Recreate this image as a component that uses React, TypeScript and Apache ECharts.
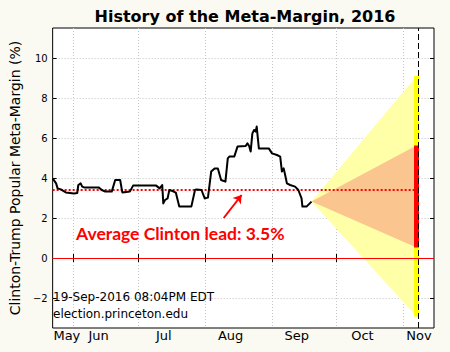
import React, { useEffect, useRef } from "react";
import * as echarts from "echarts";

// x values are day-of-year 2016
const monthLabels = ["May", "Jun", "Jul", "Aug", "Sep", "Oct", "Nov"];
const monthLabelDays = [150.0, 164.7, 194.9, 225.9, 256.6, 287.0, 313.2];
const monthStartDays = [153, 183, 214, 245, 275, 306];
const yTicks = [-2, 0, 2, 4, 6, 8, 10];

// Meta-Margin history [day, %]
const metaMargin: number[][] = [
  [143.4, 3.98], [145.0, 3.73], [145.7, 3.48], [147.2, 3.43], [149.5, 3.28],
  [153.3, 3.23], [154.8, 3.25], [155.3, 3.65], [156.4, 3.73], [157.1, 3.57],
  [158.0, 3.53], [164.7, 3.53], [166.2, 3.4], [167.8, 3.32], [170.8, 3.32],
  [172.4, 3.9], [174.7, 3.9], [175.7, 3.28], [179.2, 3.32], [180.7, 3.62],
  [191.4, 3.62], [193.0, 3.48], [194.2, 3.65], [194.7, 2.73], [195.5, 2.9],
  [196.7, 2.98], [197.5, 3.4], [199.0, 3.35], [200.5, 3.27], [202.1, 2.57],
  [207.7, 2.57], [209.4, 3.4], [210.1, 3.43], [212.4, 3.4], [213.9, 2.98],
  [215.4, 3.02], [216.9, 4.32], [218.5, 4.48], [220.0, 4.48], [221.5, 3.9],
  [223.5, 3.82], [224.6, 4.98], [225.3, 5.07], [227.6, 5.07], [229.1, 5.57],
  [232.9, 5.6], [233.7, 5.73], [234.5, 5.6], [235.2, 5.32], [236.0, 6.23],
  [236.8, 6.4], [237.5, 6.32], [238.0, 6.57], [239.0, 5.48], [243.6, 5.48],
  [245.1, 5.23], [247.4, 5.15], [248.9, 5.07], [249.7, 4.32], [250.5, 4.48],
  [251.2, 4.15], [252.0, 3.73], [253.5, 3.65], [255.8, 3.57], [257.3, 3.4],
  [258.8, 2.98], [259.2, 2.57], [261.1, 2.57], [262.6, 2.73], [263.4, 2.82],
];

const averageLead = 3.42;
const avgLineEnd = 312.0;
const coneTip = [263.4, 2.82];
const barDay = 312.1;
const electionDay = 313.1;
const range95 = [-2.93, 9.1];
const range68 = [0.52, 5.63];
const arrowFrom = [222.7, 2.0];
const arrowTo = [231.0, 3.15];

const xMin = 143.4;
const xMax = 320.2;
const yMin = -3.5;
const yMax = 11.5;

const FONT = "DejaVu Sans";

function cone(lohi: number[], color: string, z: number) {
  return {
    type: "custom",
    z,
    silent: true,
    data: [[coneTip[0], coneTip[1], barDay, lohi[0], lohi[1]]],
    encode: { x: 0, y: 1 },
    renderItem: (params: any, api: any) => {
      const p0 = api.coord([api.value(0), api.value(1)]);
      const p1 = api.coord([api.value(2), api.value(4)]);
      const p2 = api.coord([api.value(2), api.value(3)]);
      return {
        type: "polygon",
        shape: { points: [p0, p1, p2] },
        style: { fill: color, stroke: null },
      };
    },
  };
}

export default function App() {
  const ref = useRef<HTMLDivElement>(null);
  useEffect(() => {
    if (!ref.current) return;
    const chart = echarts.init(ref.current, null, { renderer: "svg" });
    const option: any = {
      animation: false,
      backgroundColor: "#fafaf2",
      title: {
        text: "History of the Meta-Margin, 2016",
        left: 240,
        textAlign: "center",
        top: 3,
        textStyle: { fontFamily: FONT, fontWeight: "bold", fontSize: 16, color: "#000" },
      },
      grid: {
        left: 47,
        top: 28,
        width: 387,
        height: 300,
        show: true,
        backgroundColor: "#ffffff",
        borderColor: "#000",
        borderWidth: 1,
      },
      xAxis: [
        {
          type: "value",
          min: xMin,
          max: xMax,
          axisLine: { show: false },
          axisTick: {
            show: true,
            inside: true,
            length: 4,
            customValues: monthStartDays,
            lineStyle: { color: "#000" },
          },
          splitLine: {
            show: true,
            lineStyle: { color: "#c4c4c4", type: [1, 2], width: 1 },
          },
          axisLabel: {
            customValues: monthLabelDays,
            formatter: (v: number) => {
              const i = monthLabelDays.findIndex((d) => Math.abs(d - v) < 0.01);
              return i >= 0 ? monthLabels[i] : "";
            },
            fontFamily: FONT,
            fontSize: 13,
            color: "#000",
            margin: 1,
          },
        },
        {
          type: "value",
          position: "top",
          min: xMin,
          max: xMax,
          axisLine: { show: false },
          axisTick: {
            show: true,
            inside: true,
            length: 4,
            customValues: monthStartDays,
            lineStyle: { color: "#000" },
          },
          axisLabel: { show: false },
          splitLine: { show: false },
        },
      ],
      yAxis: [
        {
          type: "value",
          min: yMin,
          max: yMax,
          name: "Clinton-Trump Popular Meta-Margin (%)",
          nameLocation: "middle",
          nameGap: 22,
          nameTextStyle: { fontFamily: FONT, fontSize: 14, color: "#000" },
          axisLine: { show: false },
          axisTick: {
            show: true,
            inside: true,
            length: 4,
            customValues: yTicks,
            lineStyle: { color: "#000" },
          },
          splitLine: {
            show: true,
            lineStyle: { color: "#c4c4c4", type: [1, 2], width: 1 },
          },
          axisLabel: {
            customValues: yTicks,
            formatter: (v: number) => (v < 0 ? "\u2212" + Math.abs(v) : String(v)),
            fontFamily: FONT,
            fontSize: 10,
            color: "#000",
            margin: 5,
          },
        },
        {
          type: "value",
          position: "right",
          min: yMin,
          max: yMax,
          axisLine: { show: false },
          axisTick: {
            show: true,
            inside: true,
            length: 4,
            customValues: yTicks,
            lineStyle: { color: "#000" },
          },
          axisLabel: { show: false },
          splitLine: { show: false },
        },
      ],
      series: [
        cone(range95, "#ffffa8", 1),
        cone(range68, "#fbc58f", 2),
        {
          type: "line",
          z: 3,
          data: [[barDay, range95[0]], [barDay, range95[1]]],
          symbol: "none",
          lineStyle: { color: "#ffff00", width: 5, cap: "butt" },
          silent: true,
        },
        {
          type: "line",
          z: 4,
          data: [[barDay, range68[0]], [barDay, range68[1]]],
          symbol: "none",
          lineStyle: { color: "#ff0000", width: 5, cap: "butt" },
          silent: true,
        },
        {
          type: "line",
          z: 6,
          data: metaMargin,
          symbol: "none",
          lineStyle: { color: "#000", width: 2, join: "round" },
          silent: true,
          markLine: {
            silent: true,
            symbol: ["none", "none"],
            label: { show: false },
            data: [
              [
                { coord: [xMin, averageLead], lineStyle: { color: "#ff0000", width: 2, type: [2, 2] } },
                { coord: [avgLineEnd, averageLead] },
              ],
              { yAxis: 0, lineStyle: { color: "#ff0000", width: 1, type: "solid" } },
              { xAxis: electionDay, lineStyle: { color: "#000", width: 1, type: [6, 3] } },
            ],
          },
        },
        {
          type: "line",
          z: 7,
          data: [],
          markLine: {
            silent: true,
            symbol: ["none", "arrow"],
            symbolSize: 8,
            label: { show: false },
            lineStyle: { color: "#ff0000", width: 2, type: "solid" },
            data: [[{ coord: arrowFrom }, { coord: arrowTo }]],
          },
        },
      ],
      graphic: [
        {
          type: "text",
          left: 76,
          top: 224,
          style: {
            text: "Average Clinton lead: 3.5%",
            font: "bold 17.5px Lato",
            fill: "#ff0000",
          },
          z: 10,
        },
        {
          type: "text",
          left: 53,
          top: 291,
          style: {
            text: "19-Sep-2016 08:04PM EDT",
            font: "12px 'DejaVu Sans'",
            fill: "#000",
          },
          z: 10,
        },
        {
          type: "text",
          left: 53,
          top: 308,
          style: {
            text: "election.princeton.edu",
            font: "12px 'DejaVu Sans'",
            fill: "#000",
          },
          z: 10,
        },
      ],
    };
    chart.setOption(option);
    return () => chart.dispose();
  }, []);
  return (
    <div
      ref={ref}
      style={{ position: "absolute", left: 0, top: 0, width: 450, height: 352 }}
    />
  );
}
